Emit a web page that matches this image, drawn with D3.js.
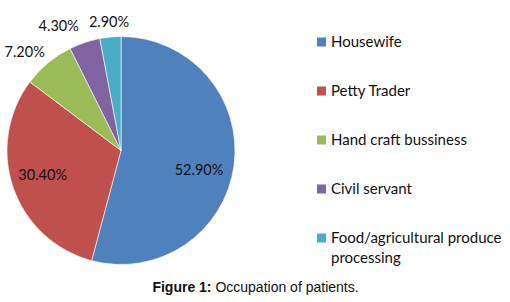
<!DOCTYPE html>
<html><head><meta charset="utf-8">
<script src="https://cdn.jsdelivr.net/npm/d3@7"></script>
<style>body{margin:0;background:#fff}</style>
</head><body>
<script>
const categories = ["Housewife","Petty Trader","Hand craft bussiness","Civil servant","Food/agricultural produce processing"];
const values = [52.9, 30.4, 7.2, 4.3, 2.9];
const valueLabels = ["52.90%","30.40%","7.20%","4.30%","2.90%"];
const colors = ["#4F81BD","#C0504D","#9BBB59","#8064A2","#4BACC6"];

const W=510,H=302;
const svg=d3.select("body").append("svg").attr("width",W).attr("height",H);
const cx=121, cy=150.5, r=114;
const pie=d3.pie().sort(null).value(d=>d);
const arcs=pie(values);
const arc=d3.arc().innerRadius(0).outerRadius(r);
const g=svg.append("g").attr("transform",`translate(${cx},${cy})`);
g.selectAll("path").data(arcs).enter().append("path")
  .attr("d",arc).attr("fill",(d,i)=>colors[i]).attr("stroke","#fff").attr("stroke-width",0.6);

const font="Lato, 'Open Sans', sans-serif";
// label placement (layout): radius factor and angle shift in degrees
const labelRadius=[0.705,0.72,1.21,1.22,1.13];
const labelShift=[6.5,1.7,-4.5,-8,0];
arcs.forEach((d,i)=>{
  const a=(d.startAngle+d.endAngle)/2 + labelShift[i]*Math.PI/180;
  const rr=r*labelRadius[i];
  const x=rr*Math.sin(a), y=-rr*Math.cos(a);
  g.append("text").attr("x",x).attr("y",y).attr("dy","0.35em")
   .attr("text-anchor","middle").attr("font-family",font).attr("font-size",14.5)
   .attr("fill","#111").text(valueLabels[i]);
});

// legend
const ly=[42,91,140,189,238];
const lg=svg.append("g");
const fs=15;
categories.forEach((c,i)=>{
  lg.append("rect").attr("x",317).attr("y",ly[i]-4.5).attr("width",9).attr("height",9).attr("fill",colors[i]);
  const t=lg.append("text").attr("x",331).attr("y",ly[i]).attr("dy","0.35em")
    .attr("font-family",font).attr("font-size",fs).attr("fill","#111");
  if(i===4){
    t.text("Food/agricultural produce");
    lg.append("text").attr("x",331).attr("y",ly[i]+20).attr("dy","0.35em")
      .attr("font-family",font).attr("font-size",fs).attr("fill","#111").text("processing");
  } else t.text(c);
});

// caption
const cap=svg.append("text").attr("x",255.5).attr("y",292).attr("text-anchor","middle")
  .attr("font-family","'Liberation Sans', Arial, sans-serif").attr("font-size",14).attr("fill","#111");
cap.append("tspan").attr("font-weight","bold").text("Figure 1:");
cap.append("tspan").text(" Occupation of patients.");
</script>
</body></html>
